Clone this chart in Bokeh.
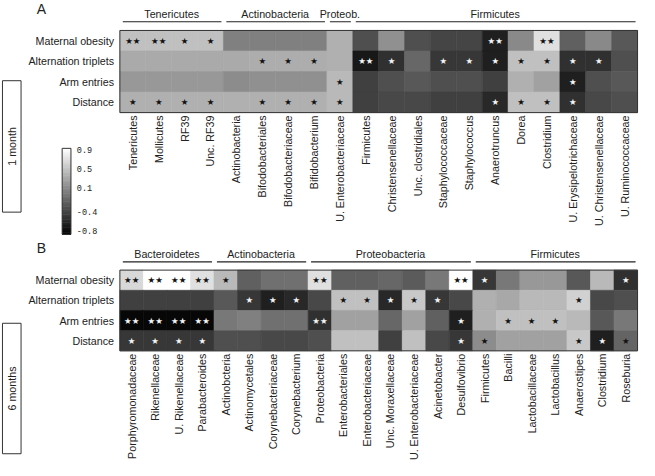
import numpy as np
from bokeh.plotting import figure
from bokeh.models import Range1d, ColumnDataSource, LinearColorMapper
from bokeh.transform import transform
from bokeh.core.properties import value
from bokeh.embed import file_html
from bokeh.resources import INLINE

# ---------------- data ----------------
rows = ["Maternal obesity", "Alternation triplets", "Arm entries", "Distance"]

a_taxa = ["Tenericutes", "Mollicutes", "RF39", "Unc. RF39", "Actinobacteria",
          "Bifodobacteriales", "Bifodobacteriaceae", "Bifidobacterium",
          "U. Enterobacteriaceae", "Firmicutes", "Christensenellaceae",
          "Unc. clostridiales", "Staphylococcaceae", "Staphylococcus",
          "Anaerotruncus", "Dorea", "Clostridium", "U. Erysipelotrichaceae",
          "U. Christensenellaceae", "U. Ruminococcaceae"]
a_groups = ["Tenericutes", "Actinobacteria", "Proteob.", "Firmicutes"]
a_group_sizes = [4, 4, 1, 11]
a_maternal = [0.48, 0.48, 0.48, 0.48, 0.05, 0.05, 0.05, 0.05, 0.37, -0.27,
              0.16, -0.27, -0.34, -0.34, -0.59, 0.11, 0.69, -0.16, 0.11, -0.21]
a_alternation = [0.33, 0.33, 0.33, 0.33, 0.33, 0.35, 0.35, 0.35, 0.37, -0.64,
                 -0.48, -0.11, -0.43, -0.43, -0.59, 0.48, 0.48, -0.48, -0.48, -0.27]
a_arm = [0.21, 0.21, 0.21, 0.21, 0.13, 0.16, 0.16, 0.16, 0.43, -0.37,
         -0.27, -0.21, -0.27, -0.27, -0.37, 0.37, 0.27, -0.59, -0.27, -0.21]
a_distance = [0.37, 0.37, 0.37, 0.37, 0.37, 0.37, 0.37, 0.37, 0.43, -0.37,
              -0.32, -0.32, -0.37, -0.37, -0.53, 0.48, 0.48, -0.48, -0.32, -0.27]
a_sig_maternal = ["**", "**", "*", "*", "", "", "", "", "", "", "", "", "", "", "**", "", "**", "", "", ""]
a_sig_alternation = ["", "", "", "", "", "*", "*", "*", "", "**", "*", "", "*", "*", "*", "*", "*", "*", "*", ""]
a_sig_arm = ["", "", "", "", "", "", "", "", "*", "", "", "", "", "", "", "", "", "*", "", ""]
a_sig_distance = ["*", "*", "*", "*", "", "*", "*", "*", "*", "", "", "", "", "", "*", "*", "*", "*", "", ""]

b_taxa = ["Porphyromonadaceae", "Rikenellaceae", "U. Rikenellaceae", "Parabacteroides",
          "Actinobcteria", "Actinomycetales", "Corynebacteriaceae", "Corynebacterium",
          "Proteobacteria", "Enterobacteriales", "Enterobacteriaceae",
          "Unc. Moraxellaceae", "U. Enterobacteriaceae", "Acinetobacter",
          "Desulfovibrio", "Firmicutes", "Bacilli", "Lactobacillaceae",
          "Lactobacillus", "Anaerostipes", "Clostridium", "Roseburia"]
b_groups = ["Bacteroidetes", "Actinobacteria", "Proteobacteria", "Firmicutes"]
b_group_sizes = [4, 4, 7, 7]
b_maternal = [0.64, 0.90, 0.90, 0.69, 0.43, -0.16, -0.05, -0.05, 0.69, -0.16, -0.16,
              -0.11, -0.19, 0.00, 0.90, -0.43, 0.00, 0.21, 0.21, -0.21, 0.43, -0.48]
b_alternation = [-0.37, -0.37, -0.37, -0.37, -0.21, -0.43, -0.59, -0.53, -0.32, 0.48, 0.48,
                 -0.53, 0.53, -0.43, -0.32, 0.37, 0.32, 0.43, 0.43, 0.59, -0.32, -0.27]
b_arm = [-0.75, -0.75, -0.75, -0.75, 0.00, 0.05, -0.05, -0.05, -0.48, 0.27, 0.27,
         -0.11, 0.27, -0.16, -0.59, 0.37, 0.48, 0.48, 0.48, 0.43, -0.21, 0.00]
b_distance = [-0.43, -0.43, -0.43, -0.43, -0.27, -0.27, -0.32, -0.32, -0.27, 0.48, 0.48,
              -0.37, 0.48, -0.32, -0.43, 0.13, 0.27, 0.27, 0.27, 0.53, -0.59, -0.13]
b_sig_maternal = ["**", "**", "**", "**", "*", "", "", "", "**", "", "", "", "", "", "**", "*", "", "", "", "", "", "*"]
b_sig_alternation = ["", "", "", "", "", "*", "*", "*", "", "*", "*", "*", "*", "*", "", "", "", "", "", "*", "", ""]
b_sig_arm = ["**", "**", "**", "**", "", "", "", "", "**", "", "", "", "", "", "*", "", "*", "*", "*", "", "", ""]
b_sig_distance = ["*", "*", "*", "*", "", "", "", "", "", "", "", "", "", "", "*", "*", "", "", "", "*", "*", "*"]

cbar_ticks = [0.9, 0.5, 0.1, -0.4, -0.8]
cbar_low, cbar_high = -0.8, 0.9

# ---------------- style ----------------
FONT = value("Liberation Sans")
TXT = "#222222"
grays = ["#%02x%02x%02x" % (i, i, i) for i in range(256)]
mapper = LinearColorMapper(palette=grays, low=cbar_low, high=cbar_high)

p = figure(width=639, height=460, x_range=Range1d(0, 653), y_range=Range1d(476, 0),
           output_backend="svg", toolbar_location=None, min_border=0,
           x_axis_location=None, y_axis_location=None)
p.grid.visible = False
p.outline_line_color = None
p.background_fill_color = "white"


def panel(letter, taxa, groups, sizes, vals, sigs, period, x0, x1, y0, y1,
          head_y, line_y, letter_y, box_y0, box_y1):
    n = len(taxa)
    cw = (x1 - x0) / n
    rh = (y1 - y0) / len(rows)
    xs, ys, vs, ss, sc = [], [], [], [], []
    for r in range(len(rows)):
        for c in range(n):
            xs.append(x0 + (c + 0.5) * cw)
            ys.append(y0 + (r + 0.5) * rh)
            vs.append(vals[r][c])
            ss.append(sigs[r][c].replace("*", "\u2605"))
            sc.append("#111111" if vals[r][c] > -0.2 else "#f4f4f4")
    src = ColumnDataSource(dict(x=xs, y=ys, v=vs, s=ss, sc=sc))
    p.rect("x", "y", width=cw, height=rh, source=src,
           fill_color=transform("v", mapper), line_color=transform("v", mapper),
           line_width=0.6)
    p.rect([(x0 + x1) / 2], [(y0 + y1) / 2], width=x1 - x0, height=y1 - y0,
           fill_color=None, line_color="#333333", line_width=1)
    p.text("x", "y", text="s", source=src, text_color="sc",
           text_font=value("DejaVu Sans"), text_font_size="8.5px",
           text_align="center", text_baseline="middle")
    # row labels
    p.text([x0 - 6] * len(rows), [y0 + (r + 0.5) * rh for r in range(len(rows))],
           text=rows, text_font=FONT, text_font_size="10.7px", text_color=TXT,
           text_align="right", text_baseline="middle")
    # column labels
    p.text([x0 + (c + 0.5) * cw for c in range(n)], [y1 + 3] * n, text=taxa,
           angle=np.pi / 2, text_font=FONT, text_font_size="10.7px", text_color=TXT,
           text_align="right", text_baseline="middle")
    # group headers
    start = 0
    hx, gx0, gx1 = [], [], []
    for g, sz in zip(groups, sizes):
        a = x0 + start * cw
        b = x0 + (start + sz) * cw
        gx0.append(a + 3)
        gx1.append(b - 2)
        hx.append((a + b) / 2)
        start += sz
    p.segment(gx0, [line_y] * len(groups), gx1, [line_y] * len(groups),
              line_color="#222222", line_width=1.2)
    p.text(hx, [head_y] * len(groups), text=groups, text_font=FONT,
           text_font_size="10.7px", text_color=TXT, text_align="center",
           text_baseline="middle")
    # panel letter
    p.text([37], [letter_y], text=[letter], text_font=FONT, text_font_size="14px",
           text_color=TXT, text_align="left", text_baseline="middle")
    # period box
    p.rect([11.5], [(box_y0 + box_y1) / 2], width=19, height=box_y1 - box_y0,
           fill_color="white", line_color="#333333", line_width=1)
    p.text([12], [(box_y0 + box_y1) / 2], text=[period], angle=np.pi / 2,
           text_font=FONT, text_font_size="10.7px", text_color=TXT,
           text_align="center", text_baseline="middle")


panel("A", a_taxa, a_groups, a_group_sizes,
      [a_maternal, a_alternation, a_arm, a_distance],
      [a_sig_maternal, a_sig_alternation, a_sig_arm, a_sig_distance],
      "1 month", 122, 651, 31, 116, 14, 22, 9, 83, 219)
panel("B", b_taxa, b_groups, b_group_sizes,
      [b_maternal, b_alternation, b_arm, b_distance],
      [b_sig_maternal, b_sig_alternation, b_sig_arm, b_sig_distance],
      "6 months", 122, 651, 279, 362.5, 262, 270.5, 256, 334, 469)

# colour bar (drawn through the same mapper)
cb_x, cb_w, cb_top, cb_bot = 67.5, 9, 153, 242
grad = np.linspace(cbar_low, cbar_high, 120)
seg = (cb_bot - cb_top) / len(grad)
gy = [cb_bot - (g - cbar_low) / (cbar_high - cbar_low) * (cb_bot - cb_top) for g in grad]
gsrc = ColumnDataSource(dict(y=gy, v=grad, x=[cb_x] * len(grad)))
p.rect("x", "y", width=cb_w, height=seg + 0.6, source=gsrc,
       fill_color=transform("v", mapper), line_color=None)
p.rect([cb_x], [(cb_top + cb_bot) / 2], width=cb_w, height=cb_bot - cb_top,
       fill_color=None, line_color="#333333", line_width=1)
ty = [cb_bot - 3 - (t - cbar_low) / (cbar_high - cbar_low) * (cb_bot - cb_top - 5) for t in cbar_ticks]
p.text([78] * len(cbar_ticks), ty, text=["%.1f" % t for t in cbar_ticks],
       text_font=value("Liberation Mono"), text_font_size="8.5px", text_color=TXT,
       text_align="left", text_baseline="middle")

open("out.html", "w").write(file_html(p, INLINE))
